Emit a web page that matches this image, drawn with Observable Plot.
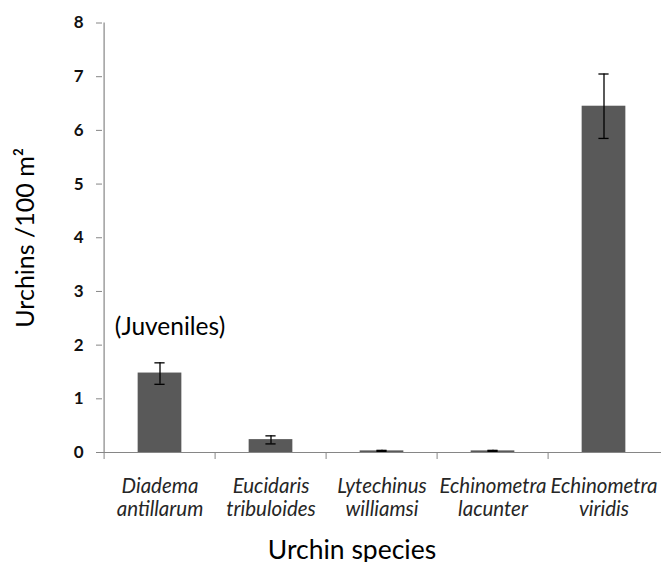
<!DOCTYPE html>
<html>
<head>
<meta charset="utf-8">
<script src="https://cdn.jsdelivr.net/npm/d3@7"></script>
<script src="https://cdn.jsdelivr.net/npm/@observablehq/plot@0.6"></script>
<style>
  html, body { margin: 0; padding: 0; background: #fff; }
  #chart svg { font-family: Lato, "Open Sans", sans-serif; }
</style>
</head>
<body>
<div id="chart"></div>
<script>
// Data
const species = ["Diadema antillarum", "Eucidaris tribuloides", "Lytechinus williamsi", "Echinometra lacunter", "Echinometra viridis"];
const density = [1.48, 0.24, 0.03, 0.03, 6.45];
const errLow  = [1.27, 0.16, 0.02, 0.02, 5.85];
const errHigh = [1.67, 0.31, 0.04, 0.04, 7.05];
const yTicks = [0, 1, 2, 3, 4, 5, 6, 7, 8];
const note = "(Juveniles)";
const noteSpecies = "Diadema antillarum";
const noteY = 2.33;

const data = species.map((s, i) => ({species: s, value: density[i], lo: errLow[i], hi: errHigh[i]}));

const W = 661, H = 562;
const mL = 102, mR = 0, mT = 22.5, mB = 110;
const step = (W - mL - mR) / species.length;
const barW = 44.5, capW = 11;
const axisGray = "#868686";

const chart = Plot.plot({
  width: W,
  height: H,
  marginLeft: mL,
  marginRight: mR,
  marginTop: mT,
  marginBottom: mB,
  style: {fontFamily: "Lato, 'Open Sans', sans-serif", background: "#fff"},
  x: {type: "band", domain: species, padding: 0, label: null},
  y: {domain: [0, 8], label: null},
  marks: [
    Plot.barY(data, {x: "species", y: "value", fill: "#595959", insetLeft: (step - barW) / 2, insetRight: (step - barW) / 2}),
    Plot.ruleX(data, {x: "species", y1: "lo", y2: "hi", stroke: "#000", strokeWidth: 1.3}),
    Plot.tickY(data, {x: "species", y: "hi", stroke: "#000", strokeWidth: 1.3, insetLeft: (step - capW) / 2, insetRight: (step - capW) / 2}),
    Plot.tickY(data, {x: "species", y: "lo", stroke: "#000", strokeWidth: 1.3, insetLeft: (step - capW) / 2, insetRight: (step - capW) / 2}),
    // axis lines
    Plot.ruleY([0], {stroke: axisGray, strokeWidth: 1.2}),
    Plot.ruleX([species[0]], {y1: 0, y2: 8, dx: -step / 2, stroke: axisGray, strokeWidth: 1.2}),
    // y axis ticks + labels
    Plot.axisY({ticks: yTicks, tickSize: 6, tickPadding: 13, stroke: axisGray, fill: "#111", fontSize: 17, fontWeight: "bold"}),
    // x separator ticks at band boundaries
    Plot.axisX({tickSize: 7, tickFormat: () => "", dx: -step / 2, stroke: axisGray}),
    // x labels (two lines, italic)
    Plot.axisX({tickSize: 0, tickPadding: 24, fontSize: 20.5, fontStyle: "italic", fill: "#262626", lineHeight: 1.12,
      tickFormat: d => d.replace(" ", "\n")}),
    // annotation
    Plot.text([note], {x: () => noteSpecies, y: () => noteY, dx: 10, fontSize: 24.5, fill: "#000", text: d => d}),
    // axis titles
    Plot.text(["Urchins /100 m²"], {frameAnchor: "left", textAnchor: "middle", rotate: -90, dx: -77, fontSize: 25, fill: "#000", text: d => d}),
    Plot.text(["Urchin species"], {frameAnchor: "bottom", dx: -30, dy: 106, lineAnchor: "bottom", fontSize: 26.5, fill: "#000", text: d => d})
  ]
});
document.getElementById("chart").appendChild(chart);
</script>
</body>
</html>
